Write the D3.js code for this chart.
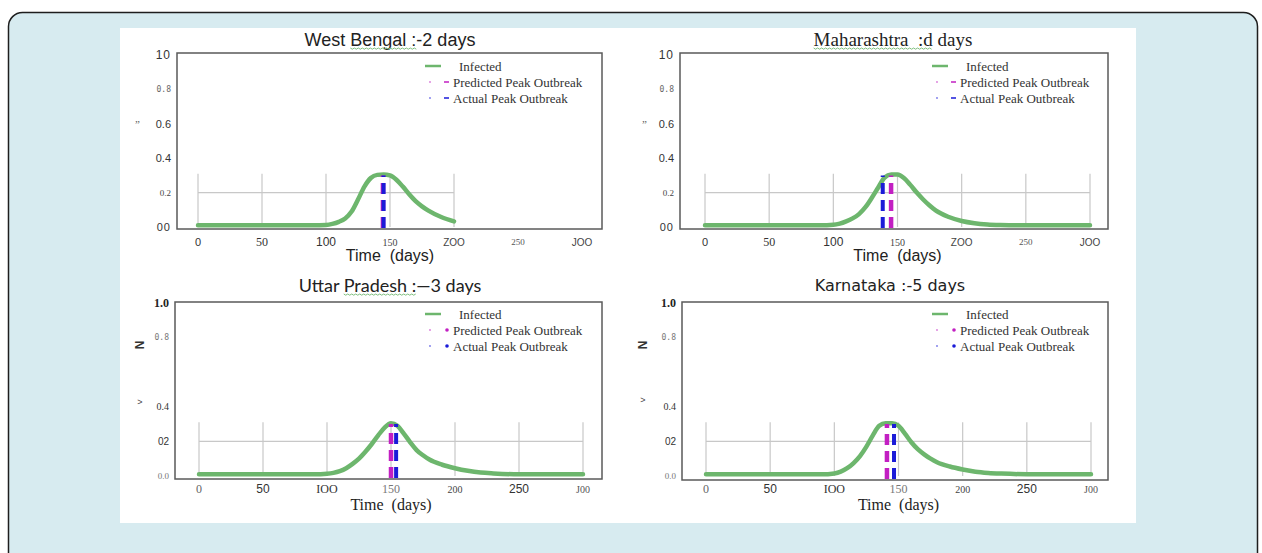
<!DOCTYPE html>
<html>
<head>
<meta charset="utf-8">
<script src="https://cdn.jsdelivr.net/npm/d3@7"></script>
<style>
  body { margin: 0; background: #fff; }
  svg { display: block; }
</style>
</head>
<body>
<svg id="chart" width="1262" height="553"></svg>
<script>
// ---- data ----
const titleParts = [
    ["West ", "Bengal :", "-2 days"],
    ["", "Maharashtra  :d", " days"],
    ["Uttar ", "Pradesh :", "\u20143 days"],
    ["Karnataka :-5 days", "", ""]
];

const wbDays = [0, 50, 90, 100, 105, 110, 115, 120, 125, 130, 135, 140, 145, 150, 155, 160, 165, 170, 175, 180, 190, 200];
const wbInfected = [0.01, 0.01, 0.01, 0.012, 0.018, 0.03, 0.05, 0.09, 0.16, 0.235, 0.285, 0.303, 0.305, 0.3, 0.275, 0.235, 0.19, 0.15, 0.12, 0.095, 0.058, 0.033];

const days = [0, 50, 90, 100, 105, 110, 115, 120, 125, 130, 135, 140, 145, 150, 155, 160, 165, 170, 175, 180, 190, 200, 210, 220, 230, 250, 275, 300];
const mhInfected = [0.01, 0.01, 0.01, 0.013, 0.02, 0.033, 0.05, 0.075, 0.115, 0.17, 0.23, 0.288, 0.305, 0.305, 0.285, 0.245, 0.2, 0.16, 0.125, 0.095, 0.058, 0.035, 0.022, 0.015, 0.012, 0.01, 0.01, 0.01];
const upInfected = [0.01, 0.01, 0.01, 0.013, 0.018, 0.028, 0.045, 0.07, 0.1, 0.14, 0.185, 0.235, 0.28, 0.305, 0.29, 0.245, 0.195, 0.15, 0.12, 0.095, 0.065, 0.045, 0.03, 0.02, 0.015, 0.01, 0.01, 0.01];
const kaInfected = [0.01, 0.01, 0.01, 0.015, 0.025, 0.045, 0.075, 0.115, 0.17, 0.235, 0.29, 0.305, 0.305, 0.29, 0.245, 0.195, 0.155, 0.125, 0.1, 0.08, 0.055, 0.038, 0.025, 0.018, 0.014, 0.01, 0.01, 0.01];

const predictedPeak = [144.5, 145, 150, 141];
const actualPeak = [145, 138.5, 154, 146.5];

const xTicks = [0, 50, 100, 150, 200, 250, 300];
const xTickLabelsTop = ["0", "50", "100", "150", "ZOO", "250", "JOO"];
const xTickLabelsBottom = ["0", "50", "IOO", "150", "200", "250", "J00"];
const yTicks = [0, 0.2, 0.4, 0.6, 0.8, 1.0];
const yTickLabelsTop = ["00", "0.2", "0.4", "0.6", "0.8", "10"];
const yTickLabelsBottom = ["0.0", "02", "0.4", "", "0.8", "1.0"];
const legendLabels = ["Infected", "Predicted Peak Outbreak", "Actual Peak Outbreak"];
const xAxisTitle = "Time  (days)";

// ---- styling ----
const green = "#6db66d";
const purple = "#c21fc2";
const blue = "#1b1bd8";
const gridColor = "#c8c8c8";
const sans = "'Liberation Sans', Arial, sans-serif";
const serif = "'Liberation Serif', 'Times New Roman', serif";
const mono = "'DejaVu Sans Mono', monospace";

const svg = d3.select("#chart");

// page frame
svg.append("rect").attr("width", 1262).attr("height", 553).attr("fill", "#fff");
svg.append("rect")
    .attr("x", 8.5).attr("y", 12.5)
    .attr("width", 1249).attr("height", 580)
    .attr("rx", 14)
    .attr("fill", "#d7ebf0")
    .attr("stroke", "#1e1e1e")
    .attr("stroke-width", 1.5);
svg.append("rect")
    .attr("x", 120).attr("y", 28)
    .attr("width", 1016).attr("height", 495)
    .attr("fill", "#fff");

const panels = [
    { days: wbDays, values: wbInfected, gridMax: 200, x0: 198, x1: 582, yb: 227, yt: 55, box: [177, 602, 53, 229],
      row: "top", titleX: 390, titleY: 46, titleFont: sans, titleSize: 18, legendX: 425, legendY: 66, stray: [135, 142, 905] },
    { days: days, values: mhInfected, gridMax: 300, x0: 705, x1: 1090, yb: 227, yt: 55, box: [680, 1108, 53, 229],
      row: "top", titleX: 893, titleY: 46, titleFont: serif, titleSize: 19, legendX: 932, legendY: 66, stray: [642, 142, 905] },
    { days: days, values: upInfected, gridMax: 300, x0: 199, x1: 583, yb: 476, yt: 303, box: [175, 602, 302, 479],
      row: "bottom", titleX: 390, titleY: 292, titleFont: "Lato, 'Open Sans', sans-serif", titleSize: 18, legendX: 425, legendY: 314, stray: [140, 345, 402] },
    { days: days, values: kaInfected, gridMax: 300, x0: 706, x1: 1091, yb: 476, yt: 303, box: [682, 1108, 302, 480],
      row: "bottom", titleX: 890, titleY: 291, titleFont: "'DejaVu Sans', Verdana, sans-serif", titleSize: 16, legendX: 932, legendY: 314, stray: [643, 345, 400] }
];

const xLabelStyleTop = [
    [sans, 11, "#333"], [serif, 12, "#333"], [sans, 12, "#333"], [serif, 10, "#444"],
    [sans, 10, "#444"], [serif, 9, "#555"], [sans, 10, "#444"]
];
const xLabelStyleBottom = [
    [serif, 12, "#666"], [sans, 12, "#333"], [serif, 12, "#333"], [serif, 12, "#777"],
    [serif, 10, "#444"], [sans, 12, "#333"], [serif, 10, "#555"]
];
const yLabelStyleTop = [
    [sans, 11, "#333"], [serif, 9, "#444"], [sans, 11, "#333"], [sans, 11, "#333"],
    [mono, 8, "#666"], [sans, 12, "#333"]
];
const yLabelStyleBottom = [
    [serif, 9, "#777"], [sans, 10, "#333"], [serif, 10, "#333"], [sans, 11, "#333"],
    [mono, 8, "#777"], [serif, 12, "#222"]
];

panels.forEach((p, i) => {
    const g = svg.append("g");
    const x = d3.scaleLinear().domain([0, 300]).range([p.x0, p.x1]);
    const y = d3.scaleLinear().domain([0, 1]).range([p.yb, p.yt]);
    const top = p.row === "top";

    // grid
    g.selectAll(".vgrid")
        .data(xTicks.filter(t => t <= p.gridMax))
        .enter().append("line")
        .attr("x1", d => x(d)).attr("x2", d => x(d))
        .attr("y1", y(0)).attr("y2", y(0.31))
        .attr("stroke", gridColor).attr("stroke-width", 1.2);
    g.append("line")
        .attr("x1", x(0)).attr("x2", x(p.gridMax))
        .attr("y1", y(0.2)).attr("y2", y(0.2))
        .attr("stroke", gridColor).attr("stroke-width", 1.2);

    // infected curve
    const pts = p.days.map((d, k) => [d, p.values[k]]);
    const line = d3.line()
        .x(d => x(d[0]))
        .y(d => y(d[1]))
        .curve(d3.curveMonotoneX);
    g.append("path")
        .datum(pts)
        .attr("fill", "none")
        .attr("stroke", green)
        .attr("stroke-width", 4.5)
        .attr("stroke-linecap", "round")
        .attr("d", line);

    // peak markers
    const peak = d3.max(p.values);
    [[predictedPeak[i], purple, 4.5], [actualPeak[i], blue, 4]].forEach(([day, col, w]) => {
        g.append("line")
            .attr("x1", x(day)).attr("x2", x(day))
            .attr("y1", p.box[3] - 1).attr("y2", y(peak - 0.005))
            .attr("stroke", col)
            .attr("stroke-width", w)
            .attr("stroke-dasharray", "11,6");
    });

    // frame
    g.append("rect")
        .attr("x", p.box[0]).attr("y", p.box[2])
        .attr("width", p.box[1] - p.box[0]).attr("height", p.box[3] - p.box[2])
        .attr("fill", "none")
        .attr("stroke", "#5a5a5a")
        .attr("stroke-width", 1.5);

    // y tick labels
    const yLabels = top ? yTickLabelsTop : yTickLabelsBottom;
    const yStyles = top ? yLabelStyleTop : yLabelStyleBottom;
    g.selectAll(".ylab")
        .data(yTicks)
        .enter().append("text")
        .attr("x", p.box[0] - 6)
        .attr("y", d => y(d))
        .attr("dy", "0.35em")
        .attr("text-anchor", "end")
        .style("font-family", (d, k) => yStyles[k][0])
        .style("font-size", (d, k) => yStyles[k][1] + "px")
        .style("font-weight", (d, k) => !top && k === 5 ? "bold" : "normal")
        .style("letter-spacing", (d, k) => top && (k === 0 || k === 5) ? "1px" : "0")
        .attr("fill", (d, k) => yStyles[k][2])
        .text((d, k) => yLabels[k]);

    // x tick labels
    const xLabels = top ? xTickLabelsTop : xTickLabelsBottom;
    const xStyles = top ? xLabelStyleTop : xLabelStyleBottom;
    const xLabY = top ? 242 : 489;
    g.selectAll(".xlab")
        .data(xTicks)
        .enter().append("text")
        .attr("x", d => x(d))
        .attr("y", xLabY)
        .attr("dy", "0.35em")
        .attr("text-anchor", "middle")
        .style("font-family", (d, k) => xStyles[k][0])
        .style("font-size", (d, k) => xStyles[k][1] + "px")
        .attr("fill", (d, k) => xStyles[k][2])
        .text((d, k) => xLabels[k]);

    // axis title
    g.append("text")
        .attr("x", (x(0) + x(300)) / 2)
        .attr("y", top ? 261 : 510)
        .attr("text-anchor", "middle")
        .style("font-family", top ? sans : serif)
        .style("font-size", "16px")
        .style("white-space", "pre")
        .attr("fill", "#222")
        .text(xAxisTitle);

    // stray y-axis glyphs
    if (top) {
        g.append("text").attr("x", p.stray[0]).attr("y", y(0.6)).attr("dy", "0.35em")
            .style("font-family", serif).style("font-size", "11px").attr("fill", "#555").text("\u201D");
    } else {
        g.append("text")
            .attr("transform", `translate(${p.stray[0]},${p.stray[1]}) rotate(-90)`)
            .attr("text-anchor", "middle").attr("dy", "0.35em")
            .style("font-family", sans).style("font-size", "12px").style("font-weight", "bold")
            .attr("fill", "#333").text("N");
        g.append("text").attr("x", p.stray[0]).attr("y", p.stray[2]).attr("dy", "0.35em")
            .attr("text-anchor", "middle")
            .style("font-family", sans).style("font-size", "9px").attr("fill", "#444").text(">");
    }

    // legend
    const lx = p.legendX, ly = p.legendY;
    g.append("line")
        .attr("x1", lx).attr("x2", lx + 16)
        .attr("y1", ly).attr("y2", ly)
        .attr("stroke", green).attr("stroke-width", 2.5);
    const legendText = (tx, ty, str) => g.append("text")
        .attr("x", tx).attr("y", ty).attr("dy", "0.35em")
        .style("font-family", serif).style("font-size", "13px")
        .attr("fill", "#333").text(str);
    legendText(lx + 34, ly, legendLabels[0]);
    [[purple, legendLabels[1]], [blue, legendLabels[2]]].forEach(([col, lab], k) => {
        const yy = ly + 16 * (k + 1);
        g.append("circle").attr("cx", lx + 5).attr("cy", yy).attr("r", 0.9).attr("fill", col).attr("opacity", 0.6);
        if (top) {
            g.append("line").attr("x1", lx + 19).attr("x2", lx + 24).attr("y1", yy).attr("y2", yy)
                .attr("stroke", col).attr("stroke-width", 1.5);
            legendText(lx + 28, yy, lab);
        } else {
            g.append("circle").attr("cx", lx + 22).attr("cy", yy).attr("r", 1.8).attr("fill", col);
            legendText(lx + 28, yy, lab);
        }
    });

    // title with spell-check squiggle
    const parts = titleParts[i];
    const title = g.append("text")
        .attr("x", p.titleX).attr("y", p.titleY)
        .attr("text-anchor", "middle")
        .style("font-family", p.titleFont)
        .style("font-size", p.titleSize + "px")
        .style("white-space", "pre")
        .attr("fill", "#222");
    parts.forEach(s => title.append("tspan").text(s));
    if (parts[1]) {
        const node = title.node();
        const start = parts[0].length;
        const end = start + parts[1].length - 1;
        const sx = node.getStartPositionOfChar(start).x;
        const ex = node.getEndPositionOfChar(end).x;
        const wy = p.titleY + 2;
        const wave = d3.range(sx, ex, 2).map((wx, k) => [wx, wy + (k % 2 ? 1.2 : 0)]);
        g.append("path")
            .attr("d", d3.line()(wave))
            .attr("fill", "none")
            .attr("stroke", "#7fbf7f")
            .attr("stroke-width", 1);
    }
});
</script>
</body>
</html>
